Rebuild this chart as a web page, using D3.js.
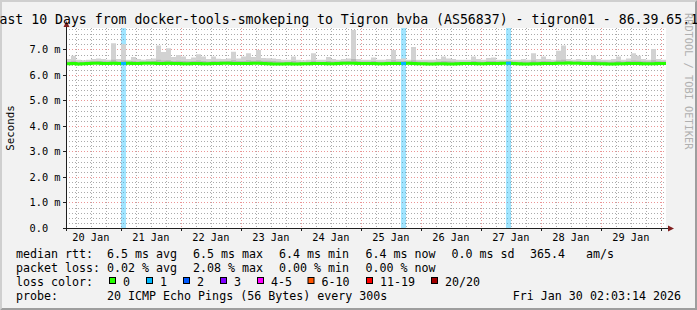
<!DOCTYPE html>
<html>
<head>
<meta charset="utf-8">
<script src="https://cdnjs.cloudflare.com/ajax/libs/d3/7.8.5/d3.min.js"></script>
<style>
body { margin: 0; background: #f2f2f2; }
svg { display: block; }
text { font-family: "DejaVu Sans Mono", monospace; fill: #000; }
</style>
</head>
<body>
<svg width="697" height="310"></svg>
<script>

var title = "Last 10 Days from docker-tools-smokeping to Tigron bvba (AS56837) - tigron01 - 86.39.65.1";
var endTime = new Date(2026, 0, 30, 2, 3, 14);
var stepHours = 2;   // one value per 2 hours, 120 buckets

// median rtt in ms, one row = 24 h
var median = [
  6.44, 6.45, 6.43, 6.44, 6.45, 6.46, 6.46, 6.45, 6.45, 6.46, 6.45, 6.45,
  6.46, 6.45, 6.45, 6.46, 6.46, 6.46, 6.45, 6.45, 6.46, 6.45, 6.45, 6.44,
  6.44, 6.45, 6.45, 6.44, 6.44, 6.45, 6.45, 6.46, 6.46, 6.45, 6.45, 6.45,
  6.45, 6.46, 6.46, 6.45, 6.44, 6.43, 6.43, 6.43, 6.44, 6.43, 6.43, 6.44,
  6.44, 6.45, 6.45, 6.45, 6.44, 6.44, 6.45, 6.46, 6.46, 6.46, 6.45, 6.45,
  6.45, 6.45, 6.44, 6.44, 6.45, 6.45, 6.45, 6.45, 6.46, 6.45, 6.44, 6.44,
  6.43, 6.43, 6.44, 6.44, 6.43, 6.43, 6.44, 6.45, 6.45, 6.45, 6.44, 6.44,
  6.45, 6.45, 6.45, 6.46, 6.46, 6.45, 6.44, 6.43, 6.43, 6.44, 6.44, 6.45,
  6.45, 6.45, 6.46, 6.46, 6.47, 6.46, 6.46, 6.45, 6.45, 6.45, 6.44, 6.44,
  6.43, 6.43, 6.44, 6.44, 6.45, 6.45, 6.45, 6.44, 6.44, 6.44, 6.45, 6.45
];

// darker smoke top (ms)
var smokeMid = [
  6.53, 6.56, 6.52, 6.52, 6.53, 6.54, 6.55, 6.54, 6.53, 6.6, 6.53, 6.58,
  6.53, 6.55, 6.53, 6.53, 6.54, 6.55, 6.6, 6.57, 6.58, 6.55, 6.56, 6.55,
  6.54, 6.55, 6.57, 6.55, 6.53, 6.55, 6.54, 6.54, 6.55, 6.58, 6.55, 6.55,
  6.58, 6.56, 6.58, 6.56, 6.56, 6.55, 6.53, 6.52, 6.52, 6.55, 6.52, 6.51,
  6.52, 6.56, 6.52, 6.52, 6.55, 6.53, 6.53, 6.54, 6.55, 6.62, 6.54, 6.53,
  6.53, 6.55, 6.52, 6.52, 6.53, 6.58, 6.54, 6.55, 6.53, 6.58, 6.53, 6.52,
  6.52, 6.52, 6.53, 6.55, 6.54, 6.53, 6.52, 6.52, 6.52, 6.55, 6.53, 6.52,
  6.55, 6.55, 6.53, 6.53, 6.54, 6.53, 6.52, 6.53, 6.52, 6.57, 6.53, 6.55,
  6.54, 6.53, 6.58, 6.6, 6.54, 6.53, 6.54, 6.53, 6.53, 6.56, 6.54, 6.53,
  6.52, 6.53, 6.55, 6.53, 6.55, 6.57, 6.56, 6.54, 6.53, 6.58, 6.54, 6.53
];

// outer smoke top (ms)
var smokeMax = [
  6.62, 6.75, 6.6, 6.58, 6.6, 6.62, 6.64, 6.62, 6.6, 7.24, 6.62, 7.2,
  6.6, 6.7, 6.62, 6.6, 6.62, 6.64, 7.15, 6.9, 7.05, 6.7, 6.78, 6.72,
  6.62, 6.68, 6.81, 6.72, 6.62, 6.72, 6.63, 6.62, 6.64, 6.91, 6.64, 6.72,
  6.85, 6.7, 6.98, 6.66, 6.65, 6.64, 6.62, 6.6, 6.6, 6.72, 6.6, 6.58,
  6.6, 6.85, 6.6, 6.6, 6.7, 6.62, 6.6, 6.62, 6.64, 7.76, 6.62, 6.6,
  6.6, 6.68, 6.6, 6.6, 6.62, 6.98, 6.62, 6.64, 6.6, 7.1, 6.6, 6.6,
  6.6, 6.6, 6.62, 6.72, 6.64, 6.62, 6.6, 6.6, 6.6, 6.72, 6.62, 6.6,
  6.66, 6.68, 6.6, 6.6, 6.62, 6.6, 6.6, 6.62, 6.6, 6.85, 6.62, 6.72,
  6.62, 6.6, 6.95, 7.15, 6.62, 6.6, 6.62, 6.6, 6.6, 6.76, 6.62, 6.6,
  6.6, 6.62, 6.72, 6.6, 6.64, 6.85, 6.75, 6.62, 6.6, 7.02, 6.62, 6.6
];

// lost pings out of 20
var lossCount = [
  0, 0, 0, 0, 0, 0, 0, 0, 0, 0, 0, 1,
  0, 0, 0, 0, 0, 0, 0, 0, 0, 0, 0, 0,
  0, 0, 0, 0, 0, 0, 0, 0, 0, 0, 0, 0,
  0, 0, 0, 0, 0, 0, 0, 0, 0, 0, 0, 0,
  0, 0, 0, 0, 0, 0, 0, 0, 0, 0, 0, 0,
  0, 0, 0, 0, 0, 0, 0, 1, 0, 0, 0, 0,
  0, 0, 0, 0, 0, 0, 0, 0, 0, 0, 0, 0,
  0, 0, 0, 0, 1, 0, 0, 0, 0, 0, 0, 0,
  0, 0, 0, 0, 0, 0, 0, 0, 0, 0, 0, 0,
  0, 0, 0, 0, 0, 0, 0, 0, 0, 0, 0, 0
];

var yTicks = [0, 1, 2, 3, 4, 5, 6, 7];
var lossLabels = ["0", "1", "2", "3", "4-5", "6-10", "11-19", "20/20"];
var lossColors = ["#26ff00", "#00b8ff", "#0059ff", "#7e00ff", "#ff00ff", "#ff5500", "#ff0000", "#a10000"];
var lossMin = [0, 1, 2, 3, 4, 6, 11, 20];

var rttStats = ["6.5 ms avg", "6.5 ms max", "6.4 ms min", "6.4 ms now", "0.0 ms sd", "365.4", "am/s"];
var lossStats = ["0.02 % avg", "2.08 % max", "0.00 % min", "0.00 % now"];
var probeText = "20 ICMP Echo Pings (56 Bytes) every 300s";
var stampText = "Fri Jan 30 02:03:14 2026";

var svg = d3.select("svg"),
    W = +svg.attr("width"),
    H = +svg.attr("height"),
    plot = {left: 66, right: 666, top: 28, bottom: 228};

var startTime = d3.timeDay.offset(endTime, -10);
var x = d3.scaleTime().domain([startTime, endTime]).range([plot.left, plot.right]);
var y = d3.scaleLinear().domain([0, 7.84]).range([plot.bottom, plot.top]);

function bucketTime(i) { return d3.timeHour.offset(startTime, stepHours * i); }
function lossColor(n) {
  var c = 0;
  lossMin.forEach(function(m, k) { if (n >= m) c = k; });
  return lossColors[c];
}
function crisp(v) { return Math.round(v) + 0.5; }

// background + 3d border
svg.append("rect").attr("width", W).attr("height", H).attr("fill", "#f2f2f2");
svg.append("path").attr("d", "M0,0H" + W + "L" + (W - 2) + ",2H2V" + (H - 2) + "L0," + H + "Z").attr("fill", "#cfcfcf");
svg.append("path").attr("d", "M" + W + ",0V" + H + "H0L2," + (H - 2) + "H" + (W - 2) + "V2Z").attr("fill", "#9e9e9e");

svg.append("rect")
    .attr("x", plot.left).attr("y", plot.top)
    .attr("width", plot.right - plot.left).attr("height", plot.bottom - plot.top)
    .attr("fill", "#fff");

var grid = svg.append("g");

// minor grid
var yMinor = d3.range(1, 40).filter(function(k) { return k % 5 != 0; }).map(function(k) { return k * 0.2; });
grid.selectAll(".ymin").data(yMinor).enter().append("line")
    .attr("x1", plot.left).attr("x2", plot.right)
    .attr("y1", function(d) { return crisp(y(d)); }).attr("y2", function(d) { return crisp(y(d)); })
    .attr("stroke", "rgba(143,143,143,0.75)").attr("stroke-dasharray", "1,2");

var xMinor = d3.timeHour.every(6).range(startTime, endTime).filter(function(d) { return d.getHours() != 0; });
grid.selectAll(".xmin").data(xMinor).enter().append("line")
    .attr("y1", plot.top).attr("y2", plot.bottom)
    .attr("x1", function(d) { return crisp(x(d)); }).attr("x2", function(d) { return crisp(x(d)); })
    .attr("stroke", "rgba(143,143,143,0.75)").attr("stroke-dasharray", "1,2");

// major grid
grid.selectAll(".ymaj").data(yTicks.slice(1)).enter().append("line")
    .attr("x1", plot.left).attr("x2", plot.right)
    .attr("y1", function(d) { return crisp(y(d)); }).attr("y2", function(d) { return crisp(y(d)); })
    .attr("stroke", "rgba(222,79,79,0.6)").attr("stroke-dasharray", "1,2");

var days = d3.timeDay.range(startTime, endTime);
grid.selectAll(".xmaj").data(days).enter().append("line")
    .attr("y1", plot.top).attr("y2", plot.bottom)
    .attr("x1", function(d) { return crisp(x(d)); }).attr("x2", function(d) { return crisp(x(d)); })
    .attr("stroke", "rgba(222,79,79,0.6)").attr("stroke-dasharray", "1,2");

// loss background bands
var idx = d3.range(median.length);
svg.append("g").selectAll("rect").data(idx.filter(function(i) { return lossCount[i] > 0; }))
  .enter().append("rect")
    .attr("x", function(i) { return x(bucketTime(i)); })
    .attr("width", function(i) { return x(bucketTime(i + 1)) - x(bucketTime(i)); })
    .attr("y", plot.top).attr("height", plot.bottom - plot.top)
    .attr("fill", function(i) { return lossColor(lossCount[i]); })
    .attr("fill-opacity", 0.37);

// smoke
var pts = idx.concat([median.length]);
function areaOf(top) {
  return d3.area()
    .curve(d3.curveStepAfter)
    .x(function(i) { return x(bucketTime(i)); })
    .y0(function(i) { return y(median[Math.min(i, median.length - 1)]); })
    .y1(function(i) { return y(top[Math.min(i, top.length - 1)]); });
}
svg.append("path").datum(pts).attr("d", areaOf(smokeMax)).attr("fill", "#d2d2d2");
svg.append("path").datum(pts).attr("d", areaOf(smokeMid)).attr("fill", "#b6b6b6");

// median line
var medLine = d3.line()
    .curve(d3.curveStepAfter)
    .x(function(i) { return x(bucketTime(i)); })
    .y(function(i) { return y(median[Math.min(i, median.length - 1)]); });
svg.append("path").datum(pts).attr("d", medLine)
    .attr("fill", "none").attr("stroke", lossColors[0]).attr("stroke-width", 3);

svg.append("g").selectAll("path").data(idx.filter(function(i) { return lossCount[i] > 0; }))
  .enter().append("path")
    .attr("d", function(i) { return "M" + x(bucketTime(i)) + "," + y(median[i]) + "H" + x(bucketTime(i + 1)); })
    .attr("stroke", function(i) { return lossColor(lossCount[i]); })
    .attr("stroke-width", 3);

// axes
var axisCol = "#1f1f1f";
svg.append("line").attr("x1", 63).attr("x2", 669).attr("y1", plot.bottom + 0.5).attr("y2", plot.bottom + 0.5).attr("stroke", axisCol);
svg.append("line").attr("x1", plot.left + 0.5).attr("x2", plot.left + 0.5).attr("y1", plot.bottom + 3).attr("y2", 25).attr("stroke", axisCol);
svg.append("path").attr("d", "M" + (plot.left + 0.5) + ",21L" + (plot.left + 3.5) + ",27L" + (plot.left - 2.5) + ",27Z").attr("fill", "#801f1f");
svg.append("path").attr("d", "M674," + (plot.bottom + 0.5) + "L668," + (plot.bottom - 2.5) + "L668," + (plot.bottom + 3.5) + "Z").attr("fill", "#801f1f");

svg.append("g").selectAll("line").data(days).enter().append("line")
    .attr("x1", function(d) { return crisp(x(d)); }).attr("x2", function(d) { return crisp(x(d)); })
    .attr("y1", plot.bottom).attr("y2", plot.bottom + 3).attr("stroke", axisCol);
svg.append("g").selectAll("line").data(yTicks).enter().append("line")
    .attr("x1", plot.left - 3).attr("x2", plot.left)
    .attr("y1", function(d) { return crisp(y(d)); }).attr("y2", function(d) { return crisp(y(d)); })
    .attr("stroke", axisCol);

var noons = d3.timeDay.range(d3.timeDay.floor(startTime), endTime)
    .map(function(d) { return d3.timeHour.offset(d, 12); })
    .filter(function(d) { return d < endTime; });
var fmtDay = d3.timeFormat("%d %b");
svg.append("g").selectAll("text").data(noons).enter().append("text")
    .attr("x", function(d) { return x(d); }).attr("y", 241)
    .attr("text-anchor", "middle").style("font-size", "10.3px")
    .text(function(d) { return fmtDay(d); });

svg.append("g").selectAll("text").data(yTicks).enter().append("text")
    .attr("x", 29.5).attr("y", function(d) { return y(d) + 3.6; })
    .style("font-size", "10.3px")
    .text(function(d) { return d == 0 ? "0.0" : d3.format(".1f")(d) + " m"; });

// titles (the title is wider than the image and clipped on both sides)
svg.append("text").attr("x", -8.5).attr("y", 23.5)
    .style("font-size", "13.2px").text(title);
svg.append("text").attr("transform", "translate(14,128) rotate(-90)").attr("text-anchor", "middle")
    .style("font-size", "10.8px").text("Seconds");
svg.append("text").attr("transform", "translate(684.5,13) rotate(90)")
    .style("font-size", "10.3px").style("fill", "#b0b0b0").text("RRDTOOL / TOBI OETIKER");

// legend
var leg = svg.append("g").style("font-size", "11.65px");
var rowY = [257.5, 271.5, 285.5, 299.5];
var colX = [107, 193, 279, 365.5, 451.5, 530, 586];
leg.append("text").attr("x", 16).attr("y", rowY[0]).text("median rtt:");
leg.selectAll(".rtt").data(rttStats).enter().append("text")
    .attr("x", function(d, i) { return colX[i]; }).attr("y", rowY[0]).text(function(d) { return d; });
leg.append("text").attr("x", 16).attr("y", rowY[1]).text("packet loss:");
leg.selectAll(".loss").data(lossStats).enter().append("text")
    .attr("x", function(d, i) { return colX[i]; }).attr("y", rowY[1]).text(function(d) { return d; });
leg.append("text").attr("x", 16).attr("y", rowY[2]).text("loss color:");

var swX = [109, 146, 183, 220, 257, 307.5, 366, 431];
leg.selectAll(".sw").data(lossLabels).enter().append("rect")
    .attr("x", function(d, i) { return swX[i] + 0.5; }).attr("y", 277.5)
    .attr("width", 6).attr("height", 6)
    .attr("fill", function(d, i) { return lossColors[i]; })
    .attr("stroke", "#000");
leg.selectAll(".swl").data(lossLabels).enter().append("text")
    .attr("x", function(d, i) { return swX[i] + 14; }).attr("y", rowY[2])
    .text(function(d) { return d; });

leg.append("text").attr("x", 16).attr("y", rowY[3]).text("probe:");
leg.append("text").attr("x", 107).attr("y", rowY[3]).text(probeText);
leg.append("text").attr("x", 681).attr("y", rowY[3]).attr("text-anchor", "end").text(stampText);

</script>
</body>
</html>
